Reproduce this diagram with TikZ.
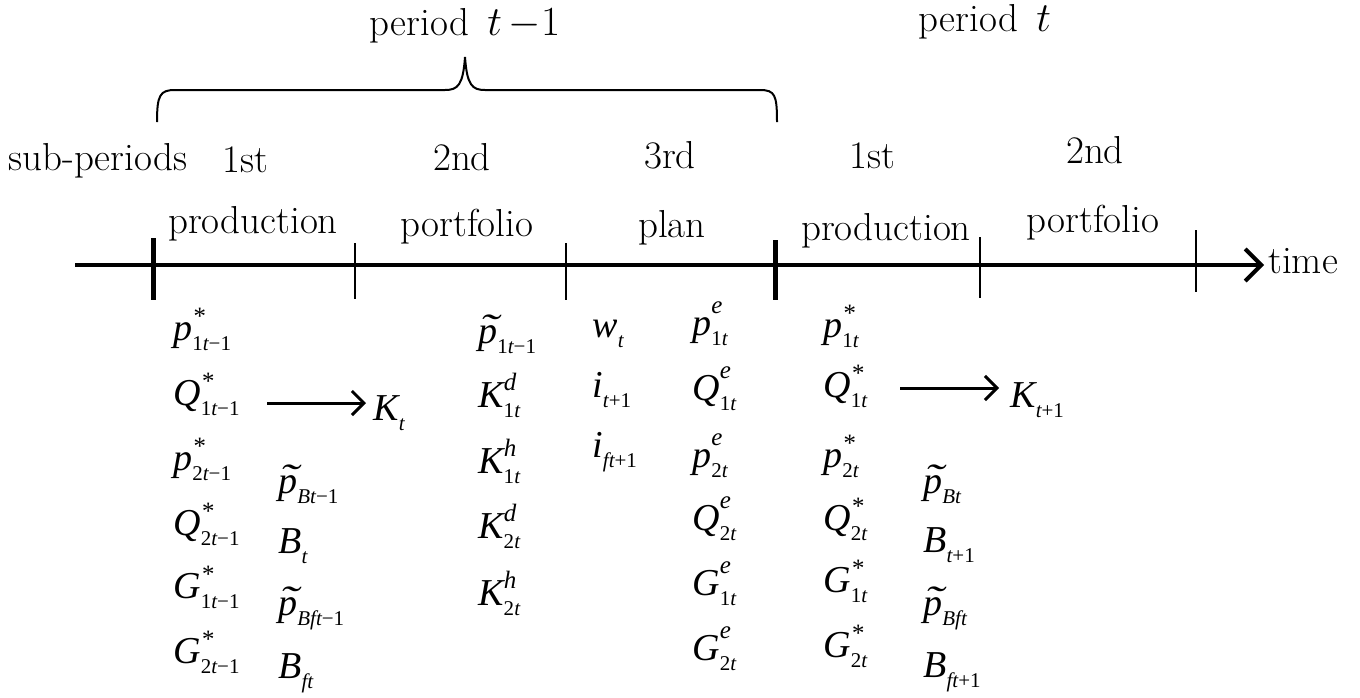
\documentclass[tikz,border=0pt]{standalone}
\usepackage{fontspec}
\newfontfamily\tm[ItalicFont={Liberation Serif Italic}]{Liberation Serif}
\usetikzlibrary{arrows.meta}
\newcommand\VV[4]{\mbox{\tm\itshape #1\rlap{\raisebox{#3}{\fontsize{12.5}{12.5}\selectfont #2}}\raisebox{-5pt}{\fontsize{10.5}{10.5}\selectfont\upshape #4}}}
\newcommand\PT[1]{\mbox{\tm\itshape\rlap{\raisebox{1.5pt}{\kern0.5pt\scalebox{1.5}[1]{\char"02DC}}}p\raisebox{-5pt}{\fontsize{10.5}{10.5}\selectfont\upshape #1}}}
\newcommand\tI{\itshape t}
\begin{document}
\begin{tikzpicture}[x=0.5pt,y=-0.5pt,
  lbl/.style={inner sep=0pt, font=\fontsize{19.5}{21}\selectfont, anchor=base},
  mth/.style={inner sep=0pt, font=\fontsize{19}{22}\selectfont, anchor=base west},
  arr/.style={line width=1.5pt, -{Straight Barb[length=6pt,width=12pt]}},
  thick tick/.style={line width=2.5pt},
  thin tick/.style={line width=1pt}]
\useasboundingbox (0,0) rectangle (1360,697);
% timeline
\coordinate (t0) at (75,265);
\coordinate (t1) at (1264,265);
\draw[line width=2pt, -{Straight Barb[length=8pt,width=16pt]}] (t0) -- (t1);
\node[lbl, anchor=base west] (time) at (1268,273) {time};
% ticks
\draw[thick tick] (153,238) -- (153,300);
\draw[thick tick] (775,240) -- (775,300);
\draw[thin tick] (355,243) -- (355,299);
\draw[thin tick] (566,243) -- (566,300);
\draw[thin tick] (980,237) -- (980,298);
\draw[thin tick] (1196,230) -- (1196,292);
% brace
\draw[line width=1pt] (157,122) .. controls (157,95) and (160,90) .. (175,90) -- (445,90)
  .. controls (458,90) and (463,85) .. (465,57)
  .. controls (467,85) and (472,90) .. (485,90) -- (760,90)
  .. controls (775,90) and (777,95) .. (777,122);
% labels
\node[lbl] (per1) at (465,35) {period\ \,$t\,{-}1$};
\node[lbl] (per2) at (985,31) {period\ \,$t$};
\node[lbl, anchor=base west] (sub) at (8,170) {sub-periods};
\node[lbl] (s1) at (245,172) {1st};
\node[lbl] (s2) at (462,170) {2nd};
\node[lbl] (s3) at (670,168) {3rd};
\node[lbl] (s4) at (872,168) {1st};
\node[lbl] (s5) at (1095,163) {2nd};
\node[lbl] (n1) at (253,233) {production};
\node[lbl] (n2) at (467,236) {portfolio};
\node[lbl] (n3) at (672,237) {plan};
\node[lbl] (n4) at (886,240) {production};
\node[lbl] (n5) at (1093,232) {portfolio};
% column 1
\node[mth] (p1) at (173,340) {\VV{p}{*}{8pt}{1{\tI}−1}};
\node[mth] (q1) at (173,405) {\VV{Q}{*}{8pt}{1{\tI}−1}};
\node[mth] (p2) at (173,470) {\VV{p}{*}{8pt}{2{\tI}−1}};
\node[mth] (q2) at (173,535) {\VV{Q}{*}{8pt}{2{\tI}−1}};
\node[mth] (g1) at (173,598) {\VV{G}{*}{8pt}{1{\tI}−1}};
\node[mth] (g2) at (173,663) {\VV{G}{*}{8pt}{2{\tI}−1}};
% column 2
\node[mth] (pb1) at (278,493) {\PT{{\itshape Bt}−1}};
\node[mth] (b1) at (278,553) {\VV{B}{}{0pt}{{\tI}}};
\node[mth] (pbf1) at (278,615) {\PT{{\itshape Bft}−1}};
\node[mth] (bf1) at (278,678) {\VV{B}{}{0pt}{{\itshape ft}}};
% K_t
\node[mth] (kt) at (373,420) {\VV{K}{}{0pt}{{\tI}}};
\coordinate (a1s) at (267,403);
\coordinate (a1e) at (366,403);
\draw[arr] (a1s) -- (a1e);
% column 3
\node[mth] (pt1) at (478,343) {\PT{1{\tI}−1}};
\node[mth] (kd1) at (478,407) {\VV{K}{d}{8.5pt}{1{\tI}}};
\node[mth] (kh1) at (478,473) {\VV{K}{h}{8.5pt}{1{\tI}}};
\node[mth] (kd2) at (478,538) {\VV{K}{d}{8.5pt}{2{\tI}}};
\node[mth] (kh2) at (478,605) {\VV{K}{h}{8.5pt}{2{\tI}}};
% column 4
\node[mth] (wt) at (592,337) {\VV{w}{}{0pt}{{\tI}}};
\node[mth] (it1) at (592,397) {\VV{i}{}{0pt}{{\tI}+1}};
\node[mth] (ift1) at (592,457) {\VV{i}{}{0pt}{{\itshape ft}+1}};
% column 5
\node[mth] (pe1) at (692,335) {\VV{p}{e}{11pt}{1{\tI}}};
\node[mth] (qe1) at (692,400) {\VV{Q}{e}{11pt}{1{\tI}}};
\node[mth] (pe2) at (692,467) {\VV{p}{e}{11pt}{2{\tI}}};
\node[mth] (qe2) at (692,530) {\VV{Q}{e}{11pt}{2{\tI}}};
\node[mth] (ge1) at (692,595) {\VV{G}{e}{11pt}{1{\tI}}};
\node[mth] (ge2) at (692,660) {\VV{G}{e}{11pt}{2{\tI}}};
% column 6
\node[mth] (ps1) at (823,337) {\VV{p}{*}{8pt}{1{\tI}}};
\node[mth] (qs1) at (823,397) {\VV{Q}{*}{8pt}{1{\tI}}};
\node[mth] (ps2) at (823,467) {\VV{p}{*}{8pt}{2{\tI}}};
\node[mth] (qs2) at (823,530) {\VV{Q}{*}{8pt}{2{\tI}}};
\node[mth] (gs1) at (823,592) {\VV{G}{*}{8pt}{1{\tI}}};
\node[mth] (gs2) at (823,657) {\VV{G}{*}{8pt}{2{\tI}}};
% K_{t+1}
\node[mth] (kt1) at (1010,407) {\VV{K}{}{0pt}{{\tI}+1}};
\coordinate (a2s) at (900,388);
\coordinate (a2e) at (999,388);
\draw[arr] (a2s) -- (a2e);
% column 7
\node[mth] (pbt) at (923,493) {\PT{{\itshape Bt}}};
\node[mth] (bt1) at (923,552) {\VV{B}{}{0pt}{{\tI}+1}};
\node[mth] (pbft) at (923,615) {\PT{{\itshape Bft}}};
\node[mth] (bft1) at (923,677) {\VV{B}{}{0pt}{{\itshape ft}+1}};
\end{tikzpicture}
\end{document}
